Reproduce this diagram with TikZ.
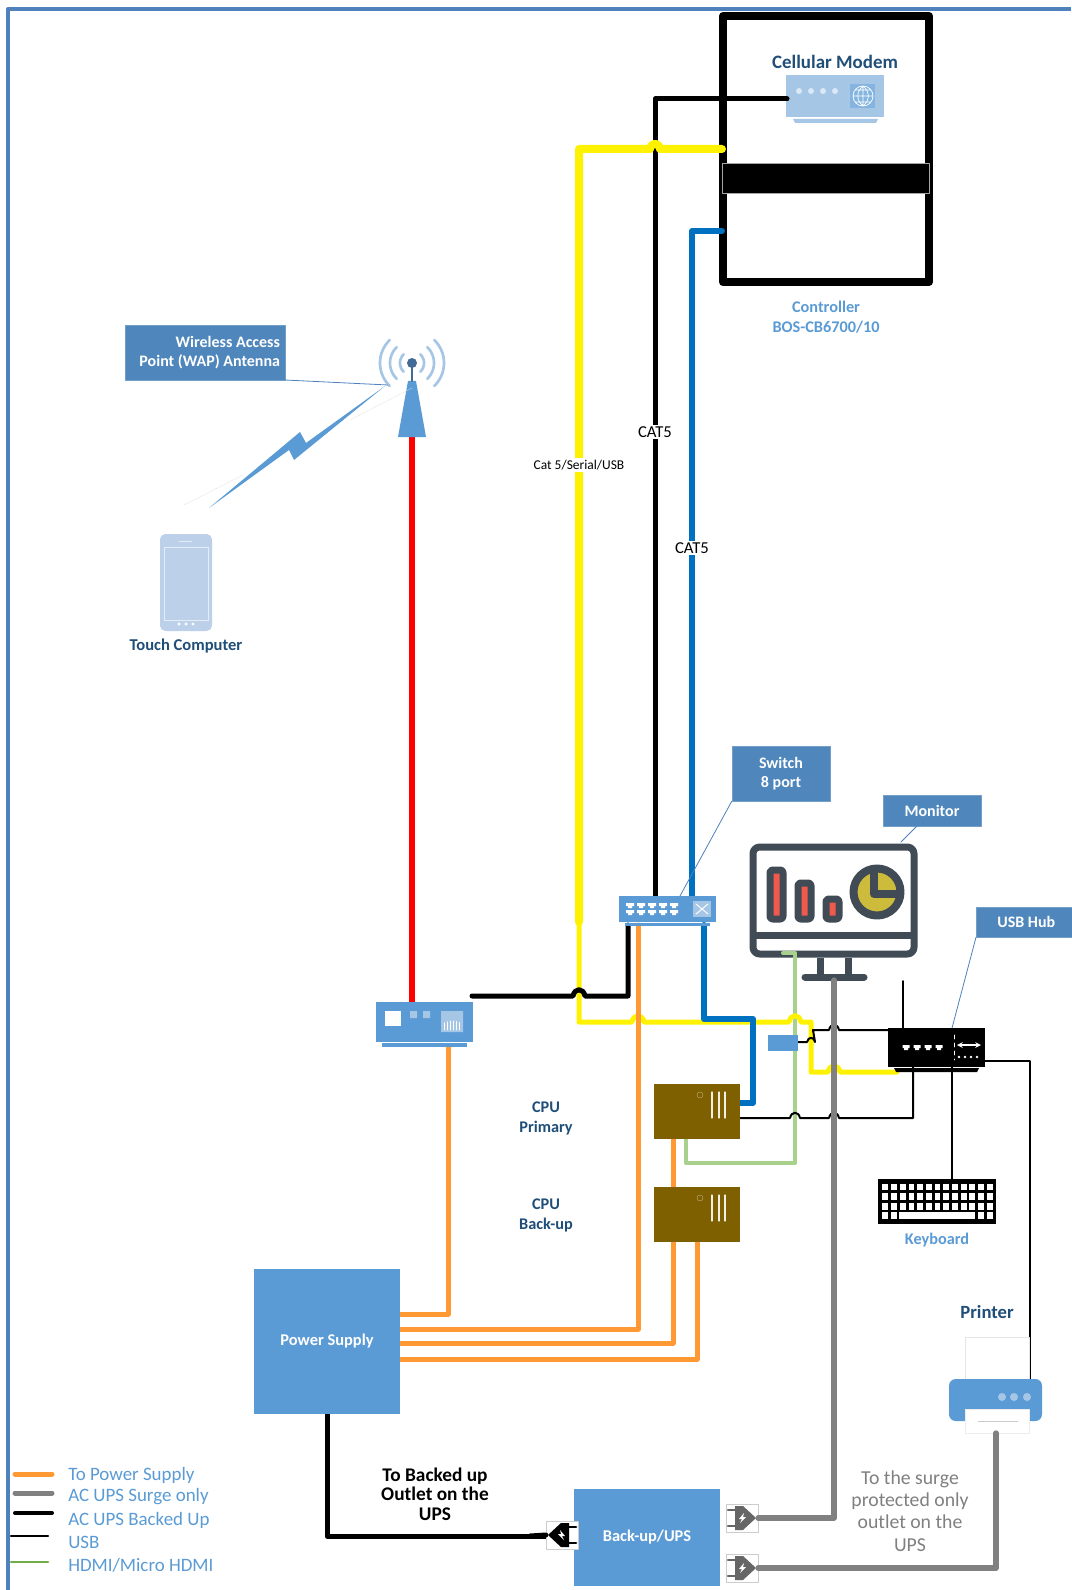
\documentclass[tikz,border=0pt]{standalone}
\usepackage{fontspec}
\setmainfont{Carlito}
\usepackage{tikz}

\definecolor{framec}{HTML}{4F81BD}
\definecolor{calloutc}{HTML}{4F86BB}
\definecolor{devc}{HTML}{5B9BD5}
\definecolor{palec}{HTML}{A6C6E6}
\definecolor{phonec}{HTML}{BDD0E9}
\definecolor{titlec}{HTML}{1F4E79}
\definecolor{monc}{HTML}{414B56}
\definecolor{redbar}{HTML}{EF5A4C}
\definecolor{piec}{HTML}{CDBC3C}
\definecolor{cpuc}{HTML}{7F6000}
\definecolor{orangec}{HTML}{FF9933}
\definecolor{bluec}{HTML}{0070C0}
\definecolor{hdmic}{HTML}{A9D18E}
\definecolor{legendg}{HTML}{70AD47}
\definecolor{grayc}{HTML}{808080}

\def\px{0.75pt}
\newcommand{\hop}[3]{-- ({#1-#3},#2) .. controls ({#1-0.7*#3},{#2-1.4*#3}) and ({#1+0.7*#3},{#2-1.4*#3}) .. ({#1+#3},#2)}
\newcommand{\plugicon}[5]{%
	\node[plugbox] (#1) at (#2,#3) {};
	\begin{scope}[shift={(#2,#3)}, xscale=#4]
		\fill[#5] (-7,-12) -- (1,-12) -- (14,0) -- (1,12) -- (-7,12) -- cycle;
		\draw[#5, line width=2pt] (-14,-8) -- (-7,-8) (-14,8) -- (-7,8);
		\fill[white] (2,-5) -- (-3,1) -- (0,1) -- (-2,5) -- (4,-1) -- (1,-1) -- cycle;
	\end{scope}
}

\begin{document}
\begin{tikzpicture}[>=stealth, line join=round, line cap=round, x=0.75pt, y=-0.75pt,
	font=\fontsize{12}{14.6}\selectfont,
	calloutbox/.style={fill=calloutc, draw=calloutc!80!white, thin, text=white, font=\fontsize{12}{14.6}\selectfont\bfseries, align=center, inner sep=0pt},
	devbox/.style={fill=devc, inner sep=0pt},
	footbox/.style={fill=devc, inner sep=0pt, minimum width=85*\px, minimum height=4*\px},
	cpubox/.style={fill=cpuc, inner sep=0pt, minimum width=86*\px, minimum height=55*\px},
	plugbox/.style={fill=white, draw=gray!40, very thin, inner sep=0pt, minimum width=32*\px, minimum height=28*\px},
	title/.style={text=titlec, font=\fontsize{12.4}{14.6}\selectfont\bfseries, align=center},
	paletitle/.style={text=devc, font=\fontsize{12.2}{15}\selectfont\bfseries, align=center},
	wirelabel/.style={fill=white, inner sep=1.5pt, font=\fontsize{12.5}{13}\selectfont},
	yellowfat/.style={yellow, line width=6pt},
	yellowline/.style={yellow, line width=3.75pt},
	catblack/.style={black, line width=3.75pt},
	catblue/.style={bluec, line width=4.5pt},
	orangeline/.style={orangec, line width=3.75pt},
	grayline/.style={grayc, line width=4pt},
	hdmiline/.style={hdmic, line width=3pt},
	usbline/.style={black, line width=1.5pt},
	pointer/.style={framec, line width=0.6pt},
	legendtext/.style={text=devc, anchor=west, inner sep=0pt, font=\fontsize{14.2}{15}\selectfont}]
	\useasboundingbox (0,0) rectangle (1071,1590);
	\fill[white] (0,0) rectangle (1071,1590);

	% Frame
	\draw[framec, line width=3pt, line cap=butt] (8,1590) -- (8,9) -- (1071,9);

	% Controller
	\node[draw=black, line width=6pt, inner sep=0pt, minimum width=206*\px, minimum height=266*\px] (controller) at (826,149) {};
	\node[fill=black, draw=gray!70, very thin, inner sep=0pt, minimum width=207*\px, minimum height=30*\px] (ctrlbar) at (826,178) {};
	\node[paletitle] (ctrllabel) at (826,317) {Controller\\BOS-CB6700/10};

	% Cellular modem
	\node[title, font=\fontsize{14.2}{15}\selectfont\bfseries] (modemlabel) at (835,62) {Cellular Modem};
	\node[fill=palec, inner sep=0pt, minimum width=98*\px, minimum height=42*\px] (modem) at (835,96) {};
	\fill[palec] (793,119) -- (878,119) -- (876,123) -- (795,123) -- cycle;
	\foreach \x in {799, 811, 823, 835} {
		\fill[white, opacity=0.6] (\x,91) circle (3*\px);
	}
	\fill[devc!75!white] (850,84) rectangle (875,108);
	\draw[white, line width=0.5pt] (863,96) circle (10*\px) (853,96) -- (873,96) (863,86) -- (863,106) (855,90) -- (871,90) (855,102) -- (871,102) (863,86) .. controls (856,92) and (856,100) .. (863,106) (863,86) .. controls (870,92) and (870,100) .. (863,106);

	% Monitor
	\draw[monc, line width=5.25pt, rounded corners=5pt] (753,847) rectangle (914,954);
	\draw[monc, line width=5.25pt, line cap=butt] (753,935) -- (914,935) (820,958) -- (820,975) (848,958) -- (848,975);
	\draw[monc, line width=5.25pt] (805,977) -- (864,977);
	\foreach \xa/\ya in {766/866, 794/879, 822/895} {
		\filldraw[fill=redbar, draw=monc, line width=5.25pt, rounded corners=2pt] ({\xa+4},{\ya+4}) rectangle ({\xa+17},919);
	}
	\filldraw[fill=piec, draw=monc, line width=6pt] (877,892) circle (23.5*\px);
	\draw[monc, line width=6pt, line cap=butt] (874,870) -- (874,894) -- (899,894);

	% Fixed points of the wires
	\coordinate (modemport) at (787,99);
	\coordinate (swtopa) at (655,896);
	\coordinate (swtopb) at (692,896);
	\coordinate (swbota) at (628,925);
	\coordinate (swbotb) at (638,925);
	\coordinate (swbotc) at (704,925);
	\coordinate (ctrlblue) at (722,231);
	\coordinate (hdmitop) at (783,953);
	\coordinate (hdmicpu) at (686,1138);
	\coordinate (standfoot) at (834,980);

	% Wires
	\draw[hdmiline] (hdmitop) -| (795,1163) -| (hdmicpu);
	\draw[catblack] (modemport) -| (swtopa);
	\draw[yellowfat] (579,922) -- (579,149) \hop{655}{149}{5} -- (722,149);
	\draw[yellowline] (579,922) -- (579,1022) \hop{638}{1022}{6} \hop{795}{1022}{6} -- (811,1022) -- (811,1072) \hop{834}{1072}{6} -- (897,1072);
	\draw[catblack] (472,996) \hop{579}{996}{6} -- (628,996) -- (swbota);
	\draw[catblue] (ctrlblue) -| (swtopb);
	\draw[catblue] (swbotc) |- (753,1019) |- (740,1103);
	\draw[line width=5pt, red, line cap=butt] (412,437) -- (412,1002);
	\draw[orangeline] (400,1314) -| (448,1047);
	\draw[orangeline] (400,1329) -| (swbotb);
	\draw[orangeline] (400,1343) -| (673,1139);
	\draw[orangeline] (400,1359) -| (697,1242);
	\draw[usbline] (740,1118) \hop{795}{1118}{5} \hop{834}{1118}{5} -| (913,1067);
	\draw[usbline] (903,981) -- (903,1028);
	\draw[usbline] (798,1042) \hop{811}{1042}{4} -- (815,1042) -- (813,1030) \hop{834}{1030}{5} -- (888,1030);
	\draw[usbline] (952,1067) -- (952,1179);
	\draw[usbline] (985,1061) -| (1030,1379);
	\draw[grayline] (standfoot) |- (742,1518);
	\draw[grayline] (996,1433) |- (742,1568);
	\draw[catblack] (327,1414) |- (562,1536);

	% Antenna
	\foreach \rad in {12, 22, 32} {
		\draw[palec, line width=2pt] plot[domain=-46:46, samples=20] ({412+\rad*cos(\x)},{363+\rad*sin(\x)});
		\draw[palec, line width=2pt] plot[domain=-46:46, samples=20] ({412-\rad*cos(\x)},{363+\rad*sin(\x)});
	}
	\fill[devc] (408,381) -- (416,381) -- (426,437) -- (398,437) -- cycle;
	\draw[devc!70!black, line width=1.5pt] (412,363) -- (412,381);
	\node[circle, fill=devc!70!black, inner sep=0pt, minimum size=10*\px] (antenna) at (412,363) {};
	\node[calloutbox, text width=150*\px, inner xsep=5*\px, align=flush right, minimum height=55*\px] (wap) at (205,352.5) {Wireless Access\\Point (WAP) Antenna};
	\draw[pointer] (285,380) -- (388,385);

	% Radio link
	\fill[devc] (385,386) -- (306,443) -- (300,432) -- (209,508) -- (289,450) -- (294,460) -- cycle;
	\draw[gray!25, very thin] (350,420) -- (412,388) (184,505) -- (243,475);

	% Touch computer
	\node[fill=phonec, rounded corners=4pt, inner sep=0pt, minimum width=52*\px, minimum height=97*\px] (phone) at (186,582.5) {};
	\draw[white, opacity=0.6, line width=0.4pt] (164,547) rectangle (208,620) (179,541) -- (192,541);
	\foreach \x in {179, 186, 193} {
		\fill[white] (\x,624) circle (1.7*\px);
	}
	\node[title] (phonelabel) at (186,646) {Touch Computer};

	% Router
	\node[devbox, minimum width=97*\px, minimum height=40*\px] (router) at (424.5,1022) {};
	\node[footbox] (routerfoot) at (424.5,1045) {};
	\fill[white] (385,1011) rectangle (401,1026);
	\fill[palec] (410,1011) rectangle (417,1018) (423,1011) rectangle (430,1018) (441,1011) rectangle (463,1032);
	\foreach \x in {444, 447, ..., 461} {
		\draw[white, line width=0.5pt] (\x,1030) -- (\x,{1021+0.12*(\x-452)*(\x-452)/4});
	}

	% Switch
	\node[calloutbox, minimum width=98*\px, minimum height=55*\px] (switchlabel) at (781,773.5) {Switch\\8 port};
	\draw[pointer] (switchlabel.south west) -- (680,896);
	\node[devbox, minimum width=97*\px, minimum height=26*\px] (switch) at (667.5,909) {};
	\node[footbox, minimum height=3*\px] (switchfoot) at (667.5,924) {};
	\foreach \x in {630, 641, 652, 663, 674} {
		\fill[white] ({\x-4},903) rectangle ({\x+4},906) ({\x-2},906) rectangle ({\x+2},908);
		\fill[white] ({\x-4},910) rectangle ({\x+4},913) ({\x-2},913) rectangle ({\x+2},915);
	}
	\fill[palec] (693,901) rectangle (711,917);
	\draw[white, line width=0.7pt] (696,904) -- (708,914) (696,914) -- (708,904);

	% Monitor and hub labels
	\node[calloutbox, minimum width=98*\px, minimum height=31*\px] (monitorlabel) at (932,810.5) {Monitor};
	\draw[pointer] (917,826) -- (901,842);
	\node[calloutbox, anchor=west, minimum width=100*\px, minimum height=30*\px] (hublabel) at (976,922) {USB Hub};
	\draw[pointer] (hublabel.south west) -- (952,1028);

	% USB hub
	\node[fill=black, inner sep=0pt, minimum width=97*\px, minimum height=39*\px] (hub) at (936.5,1047.5) {};
	\fill[black] (894,1068) -- (979,1068) -- (977,1072) -- (896,1072) -- cycle;
	\foreach \x in {906, 917, 928, 939} {
		\fill[white] ({\x-3.5},1045) rectangle ({\x+3.5},1048) ({\x-2},1048) rectangle ({\x+2},1050);
	}
	\draw[white, line width=0.4pt, dashed] (954,1035) -- (954,1060);
	\draw[<->, white, line width=0.9pt] (957,1045) -- (981,1045);
	\foreach \x in {959, 965, 971, 977} {
		\fill[white] (\x,1057) circle (1.4*\px);
	}

	% Small box under the monitor
	\node[devbox, minimum width=30*\px, minimum height=16*\px] (hdmibox) at (783,1043) {};

	% CPUs
	\node[cpubox] (cpuprimary) at (697,1111.5) {};
	\node[cpubox] (cpubackup) at (697,1214.5) {};
	\foreach \yc in {1092, 1195} {
		\foreach \x in {712, 719, 725} {
			\draw[white!90!cpuc, line width=0.8pt] (\x,\yc) -- (\x,{\yc+26});
		}
		\draw[white!50!cpuc, line width=0.3pt] (700,{\yc+3}) circle (3*\px);
	}
	\node[title, font=\fontsize{12.2}{14.6}\selectfont\bfseries] (cpualabel) at (546,1118.5) {CPU\\Primary};
	\node[title, font=\fontsize{12.2}{14.6}\selectfont\bfseries] (cpublabel) at (546,1215.5) {CPU\\Back-up};

	% Keyboard
	\node[fill=black, inner sep=0pt, minimum width=118*\px, minimum height=45*\px] (keyboard) at (937,1201.5) {};
	\foreach \yk in {1187, 1196.7, 1206.4} {
		\foreach \i in {0, 1, ..., 12} {
			\fill[white] ({885.3+8.7*\i-2.9},{\yk-3.4}) rectangle ({885.3+8.7*\i+2.9},{\yk+3.4});
		}
	}
	\foreach \i in {0, 1, 11, 12} {
		\fill[white] ({885.3+8.7*\i-2.9},1212.4) rectangle ({885.3+8.7*\i+2.9},1219.2);
	}
	\fill[white] (899,1212.4) rectangle (975,1219.2);
	\node[paletitle] (keyboardlabel) at (937,1240.5) {Keyboard};

	% Printer
	\node[title, font=\fontsize{14}{15}\selectfont\bfseries] (printerlabel) at (987,1312) {Printer};
	\draw[gray!20, very thin] (965,1379) -- (965,1337) -- (1029,1337) -- (1029,1379);
	\fill[devc, rounded corners=5pt] (949,1421) -- (949,1379) -- (1042,1379) -- (1042,1421) -- cycle;
	\foreach \x in {1002, 1014, 1027} {
		\fill[palec] (\x,1397) circle (4*\px);
	}
	\node[fill=white, draw=gray!15, very thin, inner sep=0pt, minimum width=64*\px, minimum height=24*\px] (printerpaper) at (997,1421) {};
	\draw[gray!40, very thin] (978,1421) -- (1018,1421);
	\draw[grayline] (996,1433) -- (996,1445);

	% Power supply and UPS
	\node[devbox, minimum width=146*\px, minimum height=145*\px, text=white, font=\fontsize{12.3}{14}\selectfont\bfseries] (powersupply) at (327,1341.5) {Power Supply};
	\node[devbox, minimum width=146*\px, minimum height=97*\px, text=white, font=\fontsize{12.3}{14}\selectfont\bfseries] (ups) at (647,1537.5) {Back-up/UPS};
	\plugicon{pluga}{742}{1518}{1}{gray!80!black}
	\plugicon{plugb}{742}{1568}{1}{gray!80!black}
	\plugicon{plugc}{562}{1535}{-1}{black}
	\draw[grayline] (pluga.east) -- (770,1518);
	\draw[grayline] (plugb.east) -- (770,1568);
	\draw[catblack] (plugc.west) -- (530,1536);

	% Wire labels
	\node[wirelabel] (catblacklabel) at (655,432) {CAT5};
	\node[wirelabel] (catbluelabel) at (692,548) {CAT5};
	\node[wirelabel, font=\fontsize{10.1}{11}\selectfont] (seriallabel) at (579,465) {Cat 5/Serial/USB};
	\node[align=center, font=\fontsize{14.5}{14.6}\selectfont\bfseries] (backedlabel) at (435,1494) {To Backed up\\Outlet on the\\UPS};
	\node[align=center, text=grayc, font=\fontsize{14.8}{16.7}\selectfont] (surgelabel) at (910,1511) {To the surge\\protected only\\outlet on the\\UPS};

	% Legend
	\draw[orangec, line width=3.75pt] (15,1474) -- (52,1474);
	\draw[grayc, line width=3.75pt] (15,1493) -- (52,1493);
	\draw[black, line width=3pt] (15,1513) -- (52,1513);
	\draw[black, line width=1.6pt] (11,1536) -- (48,1536);
	\draw[legendg, line width=2.2pt] (11,1562) -- (48,1562);
	\node[legendtext] (legenda) at (68,1475) {To Power Supply};
	\node[legendtext] (legendb) at (68,1497) {AC UPS Surge only};
	\node[legendtext] (legendc) at (68,1520) {AC UPS Backed Up};
	\node[legendtext] (legendd) at (68,1542) {USB};
	\node[legendtext] (legende) at (68,1565) {HDMI/Micro HDMI};
\end{tikzpicture}
\end{document}
